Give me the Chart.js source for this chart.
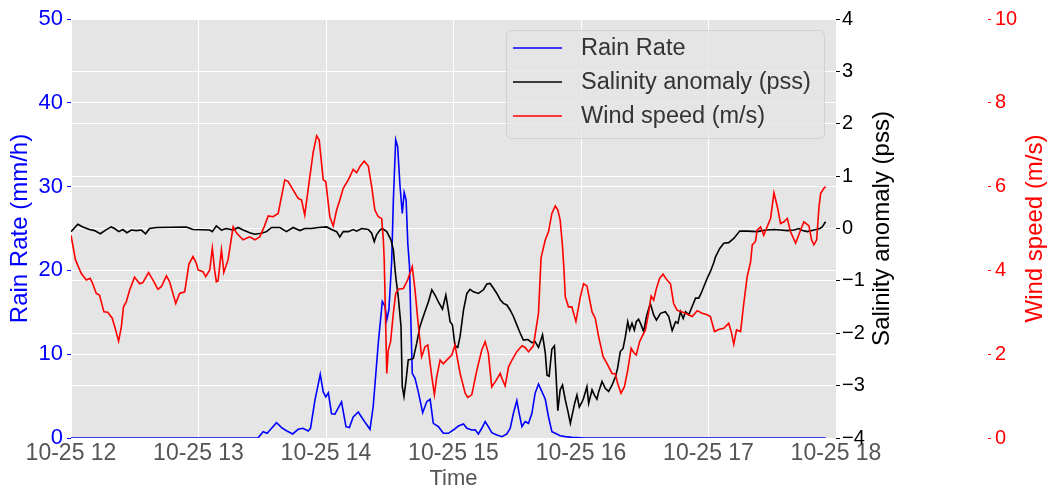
<!DOCTYPE html>
<html><head><meta charset="utf-8">
<script src="https://cdn.jsdelivr.net/npm/chart.js@4.4.1/dist/chart.umd.min.js"></script>
<style>html,body{margin:0;padding:0;background:#fff;}canvas{display:block;}</style>
</head><body>
<canvas id="c" width="1048" height="491"></canvas>
<script>
// x: minutes after 10-25 12:00
const xTickLabels = ['10-25 12','10-25 13','10-25 14','10-25 15','10-25 16','10-25 17','10-25 18'];
const rainTicks = [0,10,20,30,40,50];
const salinityTicks = [-4,-3,-2,-1,0,1,2,3,4];
const windTicks = [0,2,4,6,8,10];

const rainTimes = [0,88.0,90.4,92.3,94.4,96.7,99.1,101.4,104.3,106.9,109.2,111.6,112.7,
114.8,117.3,118.7,119.9,121.1,122.6,124.2,127.3,129.4,131.0,
132.8,135.2,136.4,138.7,140.7,142.2,144.6,146.5,147.8,148.6,
149.6,150.9,151.7,152.8,153.7,154.8,155.9,156.8,157.7,158.5,
159.3,160.0,160.6,161.9,163.4,165.5,167.4,169.0,170.5,172.9,
175.2,177.6,179.9,182.3,184.7,186.3,188.6,190.2,191.7,193.3,
194.9,196.4,198.0,200.4,202.8,205.1,206.7,208.2,209.8,210.9,
212.2,213.7,215.3,216.9,218.4,220.0,221.6,223.2,224.7,226.3,
227.9,230.2,232.6,235.7,241.8,355.1];
const rainValues = [0,0,0.75,0.56,1.16,1.83,1.23,0.87,0.48,1.04,1.16,0.84,1.16,
4.53,7.6,5.5,4.9,5.4,2.9,2.85,4.3,1.35,1.25,
2.5,3.1,2.63,1.75,1.04,3.73,11.3,16.3,15.7,14.1,
15.3,21.0,28.4,35.6,34.8,30.2,26.8,29.3,28.4,23.2,
20.5,13.3,7.72,7.12,5.53,3.02,4.33,4.62,1.75,1.35,
0.56,0.56,0.95,1.43,1.67,1.16,0.95,0.98,0.48,1.16,
1.95,1.35,0.63,0.36,0.16,0.48,1.16,2.95,4.45,2.95,
1.35,1.95,1.75,2.95,5.33,6.44,5.53,4.62,2.54,0.75,
0.56,0.27,0.16,0.08,0,0];

const salinityTimes = [0,3.2,5.6,8.7,11.1,13.8,16.3,18.9,20.5,22.5,
24.4,26.3,28.4,30.7,33.1,35.1,37.0,40.2,54.3,57.4,
65.3,66.5,68.4,70.8,73.1,76.3,78.6,81.0,84.1,86.5,
89.6,92.0,94.4,98.3,101.4,104.5,107.7,110.0,113.2,116.3,
120.3,122.6,125.0,126.5,128.1,130.5,132.8,134.4,136.8,139.9,
141.5,142.7,143.8,145.4,146.5,148.6,150.6,151.7,152.5,153.0,
154.0,155.3,155.9,156.7,157.7,158.7,159.5,161.1,162.7,164.2,
166.3,168.2,169.8,171.3,172.9,174.8,176.4,177.3,178.4,179.5,
180.7,182.0,183.1,184.7,186.3,187.8,189.4,191.7,194.1,195.7,
197.2,198.8,200.4,202.0,203.5,205.1,206.7,208.2,209.8,211.4,
212.9,215.0,216.9,218.4,220.0,221.9,223.2,224.0,225.0,226.3,
227.5,228.3,229.1,230.2,231.3,232.6,233.9,235.0,236.0,237.0,
238.1,239.2,240.5,241.2,242.8,243.6,245.2,246.3,247.5,248.3,
249.9,251.4,253.0,254.6,256.2,257.2,258.5,259.8,260.9,262.0,
262.9,264.0,265.1,266.0,267.1,268.3,269.5,270.8,272.6,274.2,
275.5,277.4,279.7,281.3,282.9,284.5,285.6,286.8,288.1,289.2,
290.7,292.3,293.9,295.4,296.5,298.1,299.4,300.9,302.5,303.3,
305.3,307.2,309.5,311.9,314.7,318.2,322.9,325.3,327.6,330.8,
333.9,337.1,340.2,342.6,344.2,346.5,349.6,352.4,353.5,355.1];
const salinityValues = [-0.06,0.08,0.03,-0.02,-0.04,-0.10,-0.03,0.03,0.0,-0.06,
-0.02,-0.08,-0.03,-0.04,-0.03,-0.10,0.0,0.02,0.03,-0.02,
-0.03,-0.06,0.05,-0.03,0.0,-0.03,0.02,-0.03,-0.08,-0.11,
-0.09,-0.06,0.02,0.02,-0.06,0.02,-0.04,0.0,0.0,0.02,
0.03,-0.02,-0.06,-0.16,-0.06,-0.06,-0.02,-0.05,0.0,-0.02,
-0.09,-0.25,-0.12,-0.03,0.0,-0.06,-0.22,-0.41,-0.79,-0.98,
-1.30,-1.87,-3.02,-3.21,-2.89,-2.51,-2.50,-2.48,-2.19,-1.87,
-1.62,-1.40,-1.17,-1.27,-1.40,-1.54,-1.27,-1.49,-1.78,-1.84,
-2.24,-2.27,-2.06,-1.56,-1.24,-1.16,-1.21,-1.24,-1.17,-1.06,
-1.05,-1.14,-1.24,-1.36,-1.43,-1.46,-1.56,-1.68,-1.84,-2.0,
-2.13,-2.12,-2.18,-2.16,-2.27,-2.03,-2.38,-2.80,-2.82,-2.30,
-2.24,-2.84,-3.48,-3.08,-2.99,-3.27,-3.50,-3.72,-3.53,-3.34,
-3.18,-3.41,-3.31,-3.24,-3.02,-3.34,-3.08,-3.18,-3.26,-3.12,
-2.92,-3.05,-3.11,-2.99,-2.83,-2.67,-2.35,-2.29,-2.06,-1.78,
-1.94,-1.81,-1.94,-1.78,-1.73,-1.84,-1.97,-1.68,-1.43,-1.65,
-1.75,-1.62,-1.59,-1.68,-1.95,-1.78,-1.81,-1.59,-1.72,-1.59,
-1.65,-1.49,-1.33,-1.33,-1.24,-1.08,-0.95,-0.82,-0.65,-0.54,
-0.38,-0.28,-0.27,-0.19,-0.05,-0.05,-0.06,-0.04,-0.03,-0.02,
-0.03,-0.04,-0.03,0.0,-0.04,-0.06,-0.03,0.0,0.03,0.13];

const windTimes = [0,2.1,4.8,7.2,9.0,10.0,11.9,13.4,15.5,17.3,
19.4,21.0,22.4,23.7,24.7,26.0,27.6,29.9,32.3,33.8,
36.5,38.6,40.9,42.5,44.9,46.4,49.3,51.1,53.5,55.5,
57.4,59.0,59.8,62.1,63.4,65.3,66.5,67.6,68.4,69.2,
70.8,71.5,71.9,73.9,76.3,77.9,81.0,84.1,86.5,88.8,
90.9,92.8,95.1,97.5,100.6,102.2,104.3,106.9,108.5,110.0,
112.4,114.0,115.6,116.8,118.7,119.9,121.8,123.4,125.0,126.5,
128.1,130.5,132.8,134.4,136.0,138.0,139.9,141.5,143.0,144.6,
146.2,147.0,147.4,148.6,149.3,150.4,151.7,152.8,154.0,156.4,
158.4,160.6,161.9,163.2,165.0,166.6,167.9,169.8,171.0,172.1,
173.7,175.2,177.6,179.2,180.7,183.1,185.5,186.7,188.6,191.0,
193.3,194.9,196.4,198.0,199.6,202.0,202.8,204.3,205.9,207.5,
209.8,212.2,213.7,215.3,217.6,220.0,221.2,223.2,224.7,226.3,
227.9,229.1,230.2,231.3,232.0,232.6,234.1,235.7,237.6,239.7,
241.2,242.8,245.2,246.7,248.3,250.4,252.2,254.6,256.2,257.2,
258.8,260.4,262.0,263.6,264.8,266.0,267.6,268.7,270.3,271.8,
273.0,274.2,275.5,277.0,278.6,280.2,282.1,283.6,285.2,287.6,
289.9,292.3,294.7,297.0,299.4,300.9,302.8,304.8,307.2,309.5,
310.7,311.9,313.2,315.1,316.6,318.2,319.8,320.6,322.1,322.9,
324.5,326.0,327.6,329.2,330.8,332.4,333.9,335.5,337.1,338.6,
341.0,343.3,344.9,347.3,348.5,349.6,350.9,352.0,352.8,354.3,
355.1];
const windValues = [4.84,4.25,3.93,3.77,3.81,3.71,3.45,3.41,3.01,3.0,
2.86,2.58,2.31,2.66,3.13,3.25,3.53,3.84,3.68,3.71,
3.95,3.77,3.55,3.61,3.87,3.73,3.21,3.45,3.49,4.15,
4.33,4.17,4.01,3.97,3.85,4.01,4.53,4.0,3.73,3.75,
4.49,4.17,3.95,4.25,5.04,4.89,4.73,4.80,4.73,4.80,
5.04,5.30,5.28,5.36,6.16,6.12,5.94,5.72,5.68,5.32,
6.24,6.83,7.21,7.11,6.16,6.12,5.28,5.06,5.44,5.68,
5.96,6.16,6.41,6.33,6.48,6.61,6.49,6.0,5.44,5.28,
5.24,4.73,4.25,1.54,2.10,2.30,2.98,3.45,3.55,3.57,
3.77,4.09,3.53,2.82,1.94,2.18,2.22,1.46,1.03,1.46,
1.86,1.77,1.90,1.98,2.22,1.54,1.07,0.97,1.03,1.62,
2.10,2.30,2.02,1.22,1.34,1.54,1.42,1.24,1.70,1.86,
2.06,2.20,2.16,2.06,2.20,2.98,4.30,4.73,4.92,5.36,
5.54,5.44,5.20,4.57,4.0,3.37,3.13,3.13,2.78,3.37,
3.68,3.63,3.01,2.86,2.42,1.94,1.78,1.54,1.53,1.31,
1.07,1.22,1.62,2.14,2.04,1.98,2.30,2.42,2.58,2.98,
3.39,3.29,3.57,3.81,3.91,3.79,3.68,3.21,3.05,3.01,
2.96,2.90,3.04,2.98,2.94,2.90,2.54,2.59,2.62,2.74,
2.54,2.24,2.58,2.54,3.21,3.85,4.20,4.61,4.69,4.96,
5.04,4.84,5.04,5.24,5.85,5.52,5.12,5.16,5.24,4.92,
4.65,4.96,5.16,5.06,4.73,4.61,4.73,5.52,5.84,5.96,
6.0];

const seriesLabels = ['Rain Rate','Salinity anomaly (pss)','Wind speed (m/s)'];
const seriesColors = ['#0000ff','#000000','#ff0000'];
const axisTitles = ['Time','Rain Rate (mm/h)','Salinity anomaly (pss)','Wind speed (m/s)'];

function pts(ts, vs){ const n=Math.min(ts.length,vs.length); const out=[]; for(let i=0;i<n;i++) out.push({x:ts[i],y:vs[i]}); return out; }

const FONT = '"Liberation Sans", Arial, Helvetica, sans-serif';
Chart.defaults.font.family = FONT;

const bgPlugin = {
  id:'bg',
  beforeDraw(chart){
    const {ctx, chartArea:a} = chart;
    ctx.save(); ctx.fillStyle='#E5E5E5';
    ctx.fillRect(a.left, a.top, a.right-a.left, a.bottom-a.top);
    ctx.restore();
  }
};

const sideTitles = {
  id:'sideTitles',
  afterDraw(chart){
    const c = chart.ctx, a = chart.chartArea;
    const ym = (a.top + a.bottom)/2;
    const draw = (txt, x, col) => {
      c.save(); c.translate(x, ym); c.rotate(-Math.PI/2);
      c.textAlign='center'; c.textBaseline='middle';
      c.fillStyle=col; c.font='24px '+FONT; c.fillText(txt,0,0); c.restore();
    };
    draw(axisTitles[2], chart.scales.y1.left + 46, '#000000');
    draw(axisTitles[3], chart.scales.y2.left + 47, '#ff0000');
  }
};

const legendPlugin = {
  id:'insideLegend',
  afterDraw(chart){
    const c = chart.ctx, a = chart.chartArea;
    const w = 318, h = 108;
    const x0 = a.right - 12 - w, y0 = a.top + 11;
    c.save();
    c.beginPath();
    c.roundRect(x0+0.5, y0+0.5, w, h, 5);
    c.fillStyle='rgba(229,229,229,0.8)'; c.fill();
    c.strokeStyle='rgba(204,204,204,0.8)'; c.lineWidth=1; c.stroke();
    chart.data.datasets.forEach((ds,i)=>{
      const y = y0 + 18 + i*34;
      c.beginPath(); c.moveTo(x0+7,y); c.lineTo(x0+56,y);
      c.strokeStyle=ds.borderColor; c.lineWidth=1.6; c.stroke();
      c.fillStyle='#333333'; c.font='23.5px '+FONT; c.textBaseline='middle'; c.textAlign='left';
      c.fillText(ds.label, x0+75, y+1);
    });
    c.restore();
  }
};

new Chart(document.getElementById('c'), {
  type:'line',
  data:{ datasets:[
    {label:seriesLabels[0], data:pts(rainTimes,rainValues), borderColor:seriesColors[0], backgroundColor:seriesColors[0], borderWidth:1.6, pointRadius:0, tension:0, yAxisID:'y', order:3},
    {label:seriesLabels[1], data:pts(salinityTimes,salinityValues), borderColor:seriesColors[1], backgroundColor:seriesColors[1], borderWidth:1.6, pointRadius:0, tension:0, yAxisID:'y1', order:2},
    {label:seriesLabels[2], data:pts(windTimes,windValues), borderColor:seriesColors[2], backgroundColor:seriesColors[2], borderWidth:1.6, pointRadius:0, tension:0, yAxisID:'y2', order:1}
  ]},
  options:{
    responsive:false, animation:false,
    layout:{padding:{top:19,left:0,right:0,bottom:0}},
    plugins:{legend:{display:false}, tooltip:{enabled:false}},
    scales:{
      x:{ type:'linear', position:'bottom', min:0, max:360,
        afterFit:s=>{s.height=53;},
        ticks:{stepSize:60, autoSkip:false, maxRotation:0, color:'#555555', font:{size:23}, padding:2,
          callback:v=>xTickLabels[Math.round(v/60)]},
        grid:{color:'#ffffff', lineWidth:1, drawTicks:false},
        border:{display:false},
        title:{display:true, text:axisTitles[0], color:'#555555', font:{size:22, lineHeight:1}, padding:{top:0,bottom:1}}
      },
      y:{ position:'left', min:0, max:50,
        afterFit:s=>{s.width=71;},
        afterBuildTicks:s=>{s.ticks=rainTicks.map(v=>({value:v}));},
        ticks:{color:'#0000ff', font:{size:22}, padding:4},
        grid:{color:'#ffffff', lineWidth:1, tickLength:4, tickColor:'#0000ff'},
        border:{display:false},
        title:{display:true, text:axisTitles[1], color:'#0000ff', font:{size:24, lineHeight:1.2}, padding:{top:6,bottom:0}}
      },
      y1:{ position:'right', min:-4, max:4,
        afterFit:s=>{s.width=152;},
        afterBuildTicks:s=>{s.ticks=salinityTicks.map(v=>({value:v}));},
        ticks:{color:'#000000', font:{size:20}, padding:2, callback:v=> v<0 ? '\u2212'+Math.abs(v) : String(v)},
        grid:{color:'#ffffff', lineWidth:1, tickLength:4, tickColor:'#000000', drawOnChartArea:true},
        border:{display:false}
      },
      y2:{ position:'right', min:0, max:10,
        afterFit:s=>{s.width=60;},
        afterBuildTicks:s=>{s.ticks=windTicks.map(v=>({value:v}));},
        ticks:{color:'#ff0000', font:{size:20}, padding:4},
        grid:{drawOnChartArea:false, tickLength:3, tickColor:'#ff0000'},
        border:{display:false}
      }
    }
  },
  plugins:[bgPlugin, sideTitles, legendPlugin]
});
</script>
</body></html>
